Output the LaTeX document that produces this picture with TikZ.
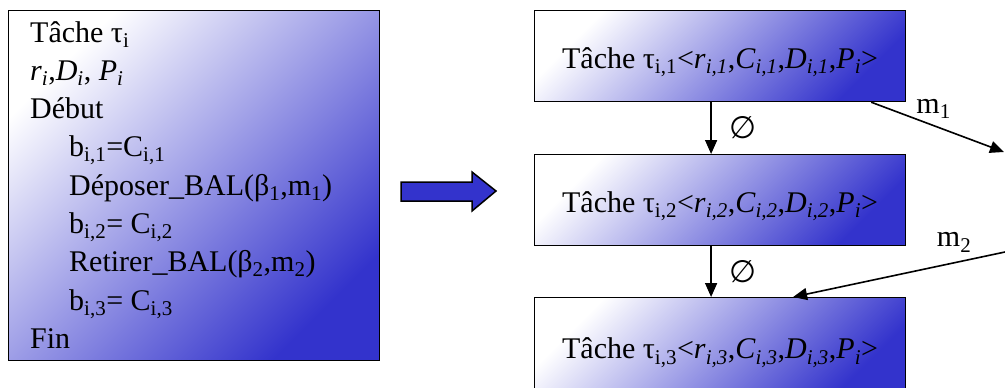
\documentclass[tikz,border=0pt]{standalone}
\usepackage{fontspec}
\setmainfont{Liberation Serif}
\newfontfamily\symfont{DejaVu Sans}
\usetikzlibrary{calc, arrows.meta}
\definecolor{tacheblue}{RGB}{51,51,204}
\newcommand{\tsub}[1]{\textsubscript{#1}}
\newcommand{\isub}[2]{\textit{#1}\textsubscript{\textit{#2}}}

\begin{document}
\begin{tikzpicture}[x=1pt, y=-1pt,
    algobox/.style={draw=black, line width=1.2pt, shading=axis, top color=white,
        bottom color=tacheblue, shading angle=45, inner sep=0pt},
    tachebox/.style={algobox, minimum width=371pt, minimum height=91pt,
        text height=30pt, text depth=6pt, font=\fontsize{30}{36}\selectfont},
    codeline/.style={anchor=base west, inner sep=0pt, font=\fontsize{30}{36}\selectfont},
    msg/.style={-{Triangle[length=14pt, width=12pt]}, line width=1.6pt},
    msglabel/.style={inner sep=0pt, font=\fontsize{30}{36}\selectfont},
    vide/.style={right=18pt, inner sep=0pt, font=\symfont\fontsize{31}{36}\selectfont}]
    \useasboundingbox (0,0) rectangle (1005,388);
    % task before splitting
    \node[algobox, anchor=north west, minimum width=371pt, minimum height=350pt] (algo) at (8,10) {};
    \node[codeline] (l1) at (30,42.5) {Tâche τ\tsub{i}};
    \node[codeline] (l2) at (30,80.5) {\isub{r}{i},\isub{D}{i}, \isub{P}{i}};
    \node[codeline] (l3) at (30,118.5) {Début};
    \node[codeline] (l4) at (69,156.5) {b\tsub{i,1}=C\tsub{i,1}};
    \node[codeline] (l5) at (69,195) {Déposer\_BAL(β\tsub{1},m\tsub{1})};
    \node[codeline] (l6) at (69,233) {b\tsub{i,2}= C\tsub{i,2}};
    \node[codeline] (l7) at (69,271.5) {Retirer\_BAL(β\tsub{2},m\tsub{2})};
    \node[codeline] (l8) at (69,310) {b\tsub{i,3}= C\tsub{i,3}};
    \node[codeline] (l9) at (30,348) {Fin};
    % transformation arrow
    \draw[line width=1.5pt, fill=tacheblue] (401,182) -- (472,182) -- (472,172) -- (496,191)
        -- (472,211) -- (472,201) -- (401,201) -- cycle;
    % resulting sub-tasks
    \node[tachebox, anchor=north west] (t1) at (534,10)
        {Tâche τ\tsub{i,1}<\isub{r}{i,1},\isub{C}{i,1},\isub{D}{i,1},\isub{P}{i}>};
    \node[tachebox, anchor=north west] (t2) at (534,154)
        {Tâche τ\tsub{i,2}<\isub{r}{i,2},\isub{C}{i,2},\isub{D}{i,2},\isub{P}{i}>};
    \node[tachebox, anchor=north west, minimum height=96pt, text height=32.5pt] (t3) at (534,297)
        {Tâche τ\tsub{i,3}<\isub{r}{i,3},\isub{C}{i,3},\isub{D}{i,3},\isub{P}{i}>};
    \coordinate (m1end) at (1004,152);
    \coordinate (m2start) at (1005,252);
    \draw[msg] ($(t1.south)+(-9,0)$) -- node[vide] (v1) {∅} ($(t2.north)+(-9,0)$);
    \draw[msg] ($(t2.south)+(-9,0)$) -- node[vide] (v2) {∅} ($(t3.north)+(-9,0)$);
    \draw[msg] ($(t1.south east)+(-35,0)$) -- node[msglabel, pos=0.47, above=6pt] (m1) {m\tsub{1}} (m1end);
    \draw[msg] (m2start) -- node[msglabel, pos=0.24, above=10pt] (m2) {m\tsub{2}} ($(t3.north)+(73,0)$);
\end{tikzpicture}
\end{document}
